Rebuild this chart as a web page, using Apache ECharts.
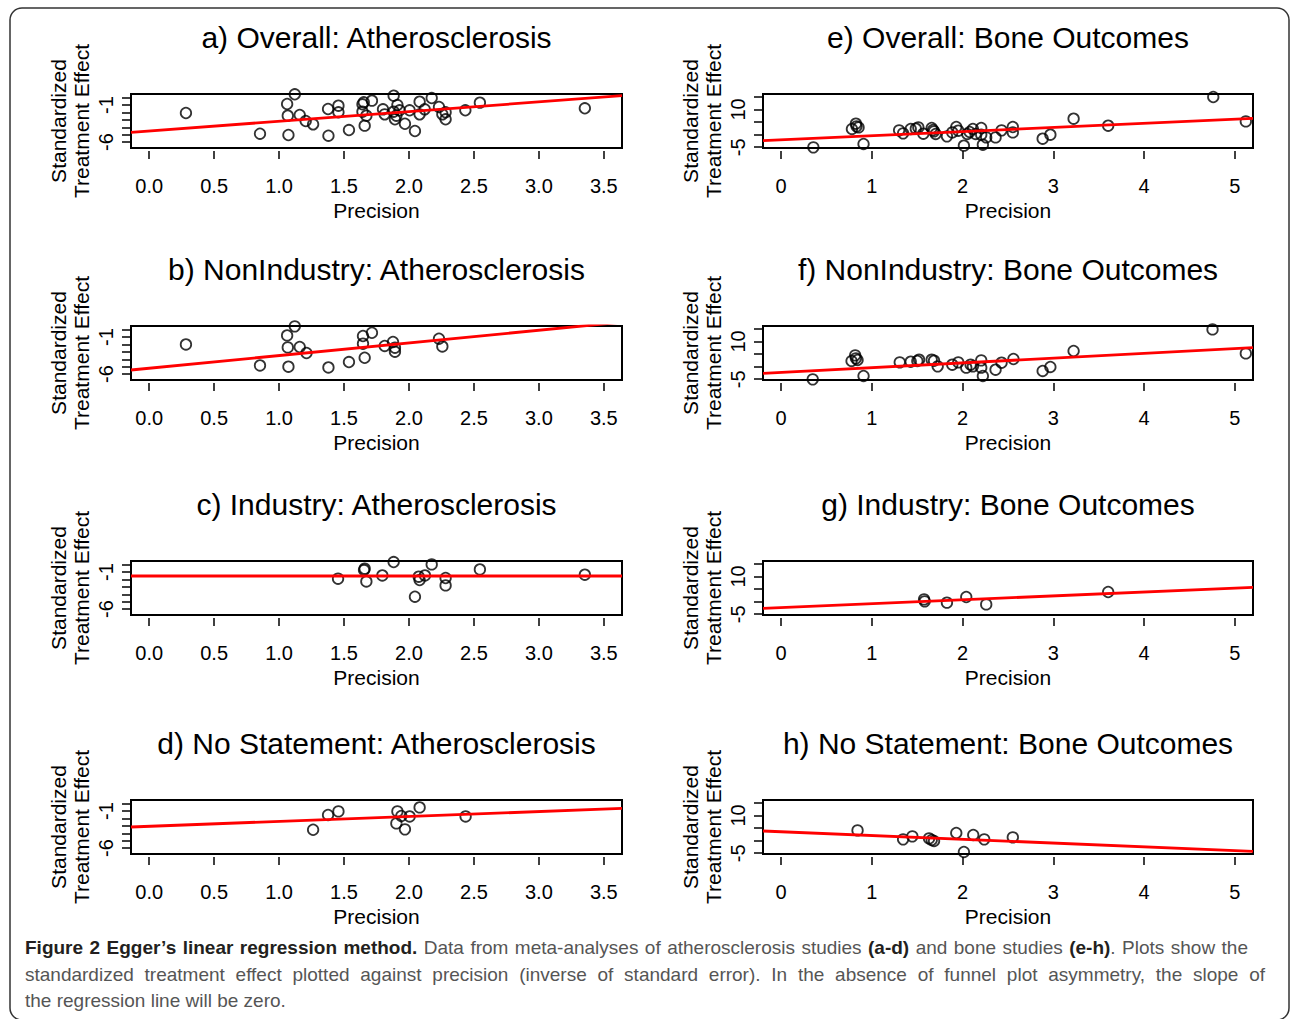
<!DOCTYPE html>
<html>
<head>
<meta charset="utf-8">
<script src="https://cdn.jsdelivr.net/npm/echarts@6/dist/echarts.min.js"></script>
<style>
html,body{margin:0;padding:0;background:#fff;}
#chart{width:1292px;height:1019px;}
</style>
</head>
<body>
<div id="chart"></div>
<script>
// ---------- tick values / labels ----------
const xTicksAth = [0, 0.5, 1, 1.5, 2, 2.5, 3, 3.5];
const xTicksBone = [0, 1, 2, 3, 4, 5];
const yTicksAth = [-6, -5, -4, -3, -2, -1, 0];
const yLabelsAth = [-6, -1];
const yTicksBone = [-5, 0, 5, 10, 15];
const yLabelsBone = [-5, 10];
const xRangeAth = [-0.14, 3.64];
const yRangeAth = [-6.8, 0.5];
const xRangeBone = [-0.2, 5.2];
const yRangeBone = [-5.3, 16.1];

const titles = [
  "a) Overall: Atherosclerosis", "b) NonIndustry: Atherosclerosis",
  "c) Industry: Atherosclerosis", "d) No Statement: Atherosclerosis",
  "e) Overall: Bone Outcomes", "f) NonIndustry: Bone Outcomes",
  "g) Industry: Bone Outcomes", "h) No Statement: Bone Outcomes"
];

// ---------- data: [precision, standardized effect] ----------
const ptsA = [[0.283,-2.07],[0.853,-4.87],[1.072,-5.04],[1.062,-0.85],[1.067,-2.43],[1.121,0.46],[1.159,-2.34],[1.205,-3.15],[1.262,-3.60],[1.377,-1.53],[1.380,-5.14],[1.457,-1.08],[1.457,-1.97],[1.538,-4.37],[1.642,-0.89],[1.652,-0.62],[1.642,-1.89],[1.672,-2.43],[1.659,-3.78],[1.715,-0.40],[1.800,-1.57],[1.813,-2.25],[1.882,0.27],[1.911,-0.99],[1.882,-1.89],[1.903,-2.43],[1.892,-2.92],[1.928,-1.70],[1.969,-3.52],[2.005,-1.70],[2.046,-4.50],[2.082,-0.54],[2.082,-2.25],[2.121,-1.57],[2.175,-0.04],[2.231,-1.26],[2.257,-2.25],[2.282,-1.97],[2.282,-2.92],[2.434,-1.70],[2.546,-0.67],[3.354,-1.43]];
const lineA = [[-0.14,-4.68],[3.64,0.27]];

const ptsB = [[0.283,-1.99],[0.853,-4.83],[1.072,-5.00],[1.062,-0.77],[1.067,-2.39],[1.121,0.45],[1.159,-2.34],[1.211,-3.15],[1.380,-5.10],[1.538,-4.37],[1.646,-0.85],[1.646,-1.89],[1.659,-3.79],[1.715,-0.41],[1.813,-2.20],[1.877,-1.66],[1.892,-2.43],[1.892,-2.97],[2.231,-1.22],[2.257,-2.26]];
const lineB = [[-0.14,-5.45],[3.64,1.02]];

const ptsC = [[1.454,-1.89],[1.659,-0.54],[1.654,-0.72],[1.672,-2.26],[1.795,-1.45],[1.882,0.36],[2.046,-4.33],[2.075,-1.62],[2.082,-2.07],[2.123,-1.45],[2.175,0.04],[2.282,-1.80],[2.282,-2.80],[2.546,-0.64],[3.354,-1.35]];
const lineC = [[-0.14,-1.53],[3.64,-1.53]];

const ptsD = [[1.262,-3.52],[1.377,-1.53],[1.457,-1.04],[1.911,-1.04],[1.903,-2.66],[1.941,-1.66],[1.969,-3.47],[2.005,-1.72],[2.082,-0.50],[2.436,-1.72]];
const lineD = [[-0.14,-3.15],[3.64,-0.64]];

const ptsE = [[0.355,-5.05],[0.780,2.24],[0.824,4.34],[0.831,3.27],[0.853,2.87],[0.908,-3.70],[1.300,1.69],[1.344,0.50],[1.428,2.24],[1.484,2.36],[1.512,2.87],[1.567,0.38],[1.659,2.64],[1.674,1.84],[1.703,0.26],[1.685,1.29],[1.827,-0.69],[1.886,0.89],[1.930,3.03],[1.952,1.57],[2.014,-4.37],[2.051,0.26],[2.077,1.05],[2.113,2.24],[2.143,0.26],[2.205,2.64],[2.205,-0.02],[2.223,-3.98],[2.260,-1.09],[2.363,-1.09],[2.429,1.69],[2.553,3.03],[2.553,0.89],[2.882,-1.60],[2.967,-0.02],[3.223,6.32],[3.604,3.55],[4.762,14.91],[5.121,5.25]];
const lineE = [[-0.2,-2.39],[5.2,6.44]];

const ptsF = [[0.348,-5.05],[0.776,2.24],[0.816,4.46],[0.824,3.27],[0.842,2.64],[0.908,-3.70],[1.307,1.69],[1.428,1.96],[1.501,2.24],[1.520,2.75],[1.659,2.75],[1.685,2.36],[1.725,0.10],[1.886,0.77],[1.952,1.69],[2.040,-0.41],[2.088,0.77],[2.113,0.10],[2.205,2.48],[2.205,-0.41],[2.223,-3.70],[2.363,-1.21],[2.429,1.57],[2.560,3.03],[2.882,-1.72],[2.967,-0.14],[3.223,6.20],[4.754,14.75],[5.121,5.25]];
const lineF = [[-0.2,-2.67],[5.2,7.51]];

const ptsG = [[1.575,0.89],[1.582,0.10],[1.827,-0.41],[2.040,1.84],[2.260,-1.09],[3.604,3.82]];
const lineG = [[-0.2,-2.67],[5.2,5.65]];

const ptsH = [[0.842,4.06],[1.344,0.50],[1.446,1.69],[1.630,0.89],[1.659,0.26],[1.685,-0.14],[1.930,3.03],[2.014,-4.49],[2.117,2.24],[2.238,0.50],[2.553,1.29]];
const lineH = [[-0.2,3.82],[5.2,-4.25]];

const panelPts = [ptsA, ptsB, ptsC, ptsD, ptsE, ptsF, ptsG, ptsH];
const panelLines = [lineA, lineB, lineC, lineD, lineE, lineF, lineG, lineH];

// caption text: segments [text, bold?]
const captionLines = [
  [["Figure 2 Egger’s linear regression method.", 1], [" Data from meta-analyses of atherosclerosis studies ", 0], ["(a-d)", 1], [" and bone studies ", 0], ["(e-h)", 1], [". Plots show the", 0]],
  [["standardized treatment effect plotted against precision (inverse of standard error). In the absence of funnel plot asymmetry, the slope of", 0]],
  [["the regression line will be zero.", 0]]
];

// ---------- layout ----------
const FONT = "'Liberation Sans', Arial, Helvetica, sans-serif";
const colLeft = [131, 763];
const colWidth = [491, 490];
const rowTop = [94, 326, 561, 800];
const boxH = 54;

const grids = [], xAxes = [], yAxes = [], series = [], graphics = [];

for (let p = 0; p < 8; p++) {
  const col = p < 4 ? 0 : 1;
  const row = p % 4;
  const ath = col === 0;
  const left = colLeft[col], top = rowTop[row], w = colWidth[col];
  grids.push({left: left, top: top, width: w, height: boxH, show: true,
    borderColor: '#000', borderWidth: 2, backgroundColor: 'transparent', containLabel: false});
  const xr = ath ? xRangeAth : xRangeBone;
  const yr = ath ? yRangeAth : yRangeBone;
  xAxes.push({type: 'value', gridIndex: p, min: xr[0], max: xr[1], position: 'bottom', offset: 3,
    axisLine: {show: false, onZero: false}, splitLine: {show: false},
    axisTick: {show: true, length: 8, lineStyle: {color: '#000', width: 1.5},
      customValues: ath ? xTicksAth : xTicksBone},
    axisLabel: {show: true, fontSize: 20, color: '#000', fontFamily: FONT, margin: 25,
      customValues: ath ? xTicksAth : xTicksBone,
      formatter: v => ath ? v.toFixed(1) : String(v)}
  });
  yAxes.push({type: 'value', gridIndex: p, min: yr[0], max: yr[1], position: 'left',
    axisLine: {show: false, onZero: false}, splitLine: {show: false},
    axisTick: {show: true, length: 9, lineStyle: {color: '#000', width: 1.5},
      customValues: ath ? yTicksAth : yTicksBone},
    axisLabel: {show: true, fontSize: 20, color: '#000', fontFamily: FONT, rotate: 90, margin: 15,
      customValues: ath ? yLabelsAth : yLabelsBone,
      formatter: v => String(v)}
  });
  series.push({type: 'scatter', xAxisIndex: p, yAxisIndex: p, data: panelPts[p],
    symbol: 'circle', symbolSize: 10.5, clip: true,
    itemStyle: {color: 'rgba(0,0,0,0)', borderColor: '#000', borderWidth: 1.8}, z: 2});
  series.push({type: 'line', xAxisIndex: p, yAxisIndex: p, data: panelLines[p],
    showSymbol: false, symbol: 'none', clip: true,
    lineStyle: {color: '#ff0000', width: 2.8}, z: 3});

  const cx = left + w / 2;
  graphics.push({type: 'text', x: cx, y: top - 57, style: {text: titles[p], font: '30px ' + FONT,
    fill: '#000', textAlign: 'center', textVerticalAlign: 'middle'}});
  graphics.push({type: 'text', x: cx, y: top + boxH + 62, style: {text: 'Precision', font: '21px ' + FONT,
    fill: '#000', textAlign: 'center', textVerticalAlign: 'middle'}});
  const cy = top + boxH / 2;
  graphics.push({type: 'text', x: left - 73, y: cy, rotation: Math.PI / 2,
    style: {text: 'Standardized', font: '21px ' + FONT, fill: '#000', textAlign: 'center', textVerticalAlign: 'middle'}});
  graphics.push({type: 'text', x: left - 50, y: cy, rotation: Math.PI / 2,
    style: {text: 'Treatment Effect', font: '21px ' + FONT, fill: '#000', textAlign: 'center', textVerticalAlign: 'middle'}});
}

// outer frame
graphics.push({type: 'rect', shape: {x: 10, y: 8, width: 1279, height: 1012, r: 12},
  style: {fill: 'none', stroke: '#333', lineWidth: 1.5}, z: -1});

// caption, justified word by word
const CAPFONT = "'Liberation Sans', Arial, sans-serif";
const CAPSIZE = 19;
const fontFor = b => (b ? 'bold ' : '') + CAPSIZE + 'px ' + CAPFONT;
const ctx = document.createElement('canvas').getContext('2d');
const measure = (t, b) => { ctx.font = fontFor(b); return ctx.measureText(t).width; };
const capY = [947, 974, 1000];
const capX0 = 25;
const capTargets = [1223, 1240, null];
captionLines.forEach((segs, li) => {
  const words = [[]];
  segs.forEach(([text, b]) => {
    const parts = text.split(' ');
    parts.forEach((part, k) => {
      if (k > 0) words.push([]);
      if (part.length) words[words.length - 1].push([part, b]);
    });
  });
  const ws = words.filter(w => w.length);
  const widths = ws.map(w => w.reduce((s, [t, b]) => s + measure(t, b), 0));
  const spaceW = measure(' ', 0);
  const natural = widths.reduce((a, c) => a + c, 0) + spaceW * (ws.length - 1);
  let gap = spaceW;
  if (capTargets[li] && ws.length > 1) gap = spaceW + (capTargets[li] - natural) / (ws.length - 1);
  let x = capX0;
  ws.forEach((w, i) => {
    let px = x;
    w.forEach(([t, b]) => {
      graphics.push({type: 'text', x: px, y: capY[li], style: {text: t, font: fontFor(b),
        fill: b ? '#231f20' : '#555', textAlign: 'left', textVerticalAlign: 'middle'}});
      px += measure(t, b);
    });
    x += widths[i] + gap;
  });
});

const chart = echarts.init(document.getElementById('chart'), null, {renderer: 'svg'});
chart.setOption({
  animation: false,
  backgroundColor: '#fff',
  grid: grids, xAxis: xAxes, yAxis: yAxes, series: series,
  graphic: {elements: graphics}
});
</script>
</body>
</html>
